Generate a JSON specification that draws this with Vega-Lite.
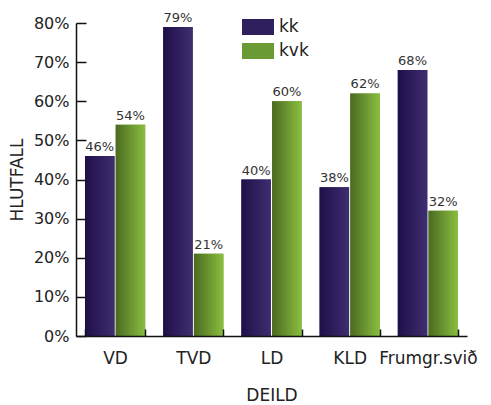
{
  "$schema": "https://vega.github.io/schema/vega-lite/v6.json",
  "width": 391,
  "height": 313,
  "padding": {"left": 8, "top": 11, "right": 3, "bottom": 2},
  "background": "white",
  "config": {
    "font": "DejaVu Sans",
    "view": {"stroke": null},
    "axis": {"domainColor": "#111", "domainWidth": 1.5, "tickColor": "#111", "tickWidth": 1.5, "grid": false, "labelColor": "#222", "titleColor": "#222", "titleFontWeight": "normal", "labelFont": "DejaVu Sans", "titleFont": "DejaVu Sans"}
  },
  "data": {
    "values": [
      {"deild": "VD", "kyn": "kk", "hlutfall": 0.46},
      {"deild": "VD", "kyn": "kvk", "hlutfall": 0.54},
      {"deild": "TVD", "kyn": "kk", "hlutfall": 0.79},
      {"deild": "TVD", "kyn": "kvk", "hlutfall": 0.21},
      {"deild": "LD", "kyn": "kk", "hlutfall": 0.40},
      {"deild": "LD", "kyn": "kvk", "hlutfall": 0.60},
      {"deild": "KLD", "kyn": "kk", "hlutfall": 0.38},
      {"deild": "KLD", "kyn": "kvk", "hlutfall": 0.62},
      {"deild": "Frumgr.svið", "kyn": "kk", "hlutfall": 0.68},
      {"deild": "Frumgr.svið", "kyn": "kvk", "hlutfall": 0.32}
    ]
  },
  "encoding": {
    "x": {
      "field": "deild", "type": "nominal", "sort": null, "title": "DEILD",
      "scale": {"paddingInner": 0.23, "paddingOuter": 0.115},
      "axis": {"labelAngle": 0, "labelFontSize": 17, "titleFontSize": 17, "ticks": true, "tickBand": "extent", "tickSize": -7, "labelPadding": 21, "titlePadding": 21, "zindex": 1}
    },
    "xOffset": {"field": "kyn", "type": "nominal", "scale": {"paddingInner": 0.04}},
    "y": {
      "field": "hlutfall", "type": "quantitative", "title": "HLUTFALL",
      "scale": {"domain": [0, 0.8]},
      "axis": {"format": ".0%", "tickCount": 8, "ticks": true, "labelFontSize": 16, "titleFontSize": 17, "tickSize": -10, "labelPadding": 17, "titlePadding": 7, "zindex": 1}
    }
  },
  "layer": [
    {
      "mark": {"type": "bar"},
      "encoding": {
        "color": {
          "field": "kyn", "type": "nominal", "title": null,
          "scale": {"domain": ["kk", "kvk"], "range": ["#2f1f5e", "#6a9a33"]},
          "legend": {"orient": "none", "legendX": 166, "legendY": -12, "symbolType": "M-1,-0.5H1V0.5H-1Z", "symbolSize": 1024, "symbolStrokeWidth": 0, "labelFontSize": 17, "labelColor": "#222", "rowPadding": -10, "labelOffset": 5}
        }
      }
    },
    {
      "transform": [{"filter": "datum.kyn === 'kk'"}],
      "mark": {"type": "bar", "fill": {"gradient": "linear", "x1": 0, "y1": 0, "x2": 1, "y2": 0, "stops": [{"offset": 0, "color": "#1f0f48"}, {"offset": 1, "color": "#3f2e70"}]}},
      "encoding": {}
    },
    {
      "transform": [{"filter": "datum.kyn === 'kvk'"}],
      "mark": {"type": "bar", "fill": {"gradient": "linear", "x1": 0, "y1": 0, "x2": 1, "y2": 0, "stops": [{"offset": 0, "color": "#4a6a20"}, {"offset": 1, "color": "#8abf40"}]}},
      "encoding": {}
    },
    {
      "mark": {"type": "text", "baseline": "bottom", "dy": -2, "fontSize": 13, "color": "#333"},
      "encoding": {"text": {"field": "hlutfall", "type": "quantitative", "format": ".0%"}}
    }
  ]
}
